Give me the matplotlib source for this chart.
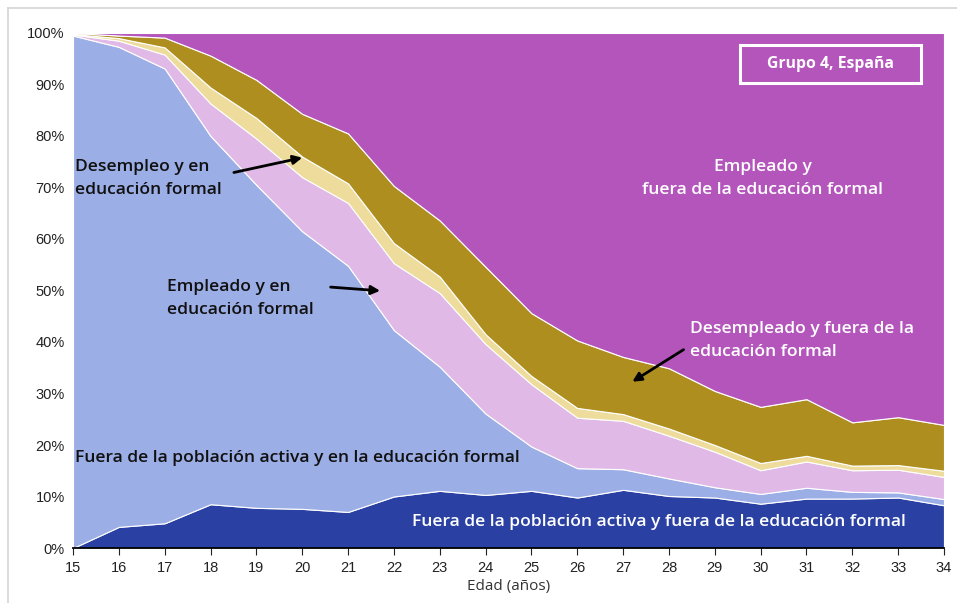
import numpy as np
import matplotlib.pyplot as plt
from matplotlib.lines import Line2D
from matplotlib.patches import Rectangle

# Datos (porcentajes por edad)
edades = list(range(15, 35))
fuera_pob_fuera_edu = [0, 4.1, 4.8, 8.5, 7.8, 7.6, 7.0, 10.0, 11.1, 10.3,
                       11.1, 9.8, 11.3, 10.1, 9.8, 8.6, 9.6, 9.6, 9.8, 8.3]
fuera_pob_en_edu = [99.5, 93.2, 88.3, 71.5, 62.7, 53.9, 47.8, 32.3, 24.1, 15.8,
                    8.6, 5.7, 4.0, 3.4, 2.0, 1.9, 2.1, 1.3, 1.0, 1.2]
empleado_en_edu = [0.2, 1.2, 2.7, 6.3, 9.0, 10.5, 12.2, 13.0, 14.3, 13.5,
                   12.1, 9.8, 9.4, 8.3, 6.9, 4.6, 5.1, 4.2, 4.4, 4.3]
desempleo_en_edu = [0.1, 0.5, 1.4, 3.1, 4.0, 4.0, 3.8, 3.9, 3.2, 1.9,
                    1.6, 1.9, 1.3, 1.4, 1.3, 1.4, 1.1, 0.9, 0.9, 1.2]
desempleado_fuera_edu = [0.2, 0.5, 1.9, 6.2, 7.4, 8.3, 9.7, 11.1, 10.9, 13.1,
                         12.2, 13.1, 11.1, 11.7, 10.5, 10.9, 11.0, 8.4, 9.3, 8.9]
empleado_fuera_edu = [0, 0.5, 0.9, 4.4, 9.1, 15.7, 19.5, 29.7, 36.4, 45.4,
                      54.4, 59.7, 62.9, 65.1, 69.5, 72.6, 71.1, 75.6, 74.6, 76.1]

colores = ['#2a41a3', '#9caee6', '#e0b9e6', '#eddc9c', '#ae8e1f', '#b455bc']

fig = plt.figure(figsize=(9.57, 6.03), dpi=100)
ax = fig.add_axes([0.0763, 0.0912, 0.9101, 0.8541])

series = [fuera_pob_fuera_edu, fuera_pob_en_edu, empleado_en_edu,
          desempleo_en_edu, desempleado_fuera_edu, empleado_fuera_edu]
ax.stackplot(edades, *series, colors=colores, edgecolor='white', linewidth=0.8)

ax.set_xlim(15, 34)
ax.set_ylim(0, 100)
ax.set_xticks(edades)
ax.set_yticks(range(0, 101, 10))
ax.set_yticklabels([f'{v}%' for v in range(0, 101, 10)])
for s in ['top', 'right', 'left']:
    ax.spines[s].set_visible(False)
ax.spines['bottom'].set_linewidth(1.3)
ax.tick_params(axis='y', length=0, labelsize=10.5, colors='#222222', pad=6)
ax.tick_params(axis='x', direction='out', length=5, labelsize=10.5, colors='#222222', pad=4)
for lab in ax.get_xticklabels() + ax.get_yticklabels():
    lab.set_family('Liberation Sans')
ax.set_xlabel('Edad (años)', fontsize=11, family='Open Sans', color='#333333', labelpad=3)

# Etiquetas
fuente = dict(family='Open Sans', fontweight='semibold', fontsize=12.6)
ax.text(15.05, 71.7, 'Desempleo y en\neducación formal', color='#111111',
        va='center', ha='left', linespacing=1.55, **fuente)
ax.text(17.05, 48.4, 'Empleado y en\neducación formal', color='#111111',
        va='center', ha='left', linespacing=1.55, **fuente)
ax.text(15.05, 17.5, 'Fuera de la población activa y en la educación formal',
        color='#111111', va='center', ha='left', **fuente)
ax.text(27.78, 5.0, 'Fuera de la población activa y fuera de la educación formal',
        color='white', va='center', ha='center', **fuente)
ax.text(28.45, 40.3, 'Desempleado y fuera de la\neducación formal', color='white',
        va='center', ha='left', linespacing=1.55, **fuente)
ax.text(30.05, 71.7, 'Empleado y\nfuera de la educación formal', color='white',
        va='center', ha='center', linespacing=1.55, **fuente)

# Recuadro del grupo
ax.add_patch(Rectangle((29.55, 90.3), 3.95, 7.4, fill=False, ec='white', lw=2.2))
ax.text(31.52, 94.0, 'Grupo 4, España', color='white', va='center', ha='center',
        family='Open Sans', fontweight='bold', fontsize=11.3)

# Flechas
flecha = dict(arrowstyle='-|>', color='black', lw=2, mutation_scale=13)
ax.annotate('', xy=(20.06, 75.9), xytext=(18.45, 72.8), arrowprops=flecha)
ax.annotate('', xy=(21.76, 49.9), xytext=(20.56, 50.7), arrowprops=flecha)
ax.annotate('', xy=(27.15, 32.0), xytext=(28.37, 38.8), arrowprops=flecha)

# Borde gris de la imagen
fig.add_artist(Line2D([8 / 957, 8 / 957], [0, 1 - 8 / 603], color='#d4d4d4', lw=1.2))
fig.add_artist(Line2D([8 / 957, 1], [1 - 8 / 603, 1 - 8 / 603], color='#d4d4d4', lw=1.2))

fig.savefig('out.png', dpi=100)
